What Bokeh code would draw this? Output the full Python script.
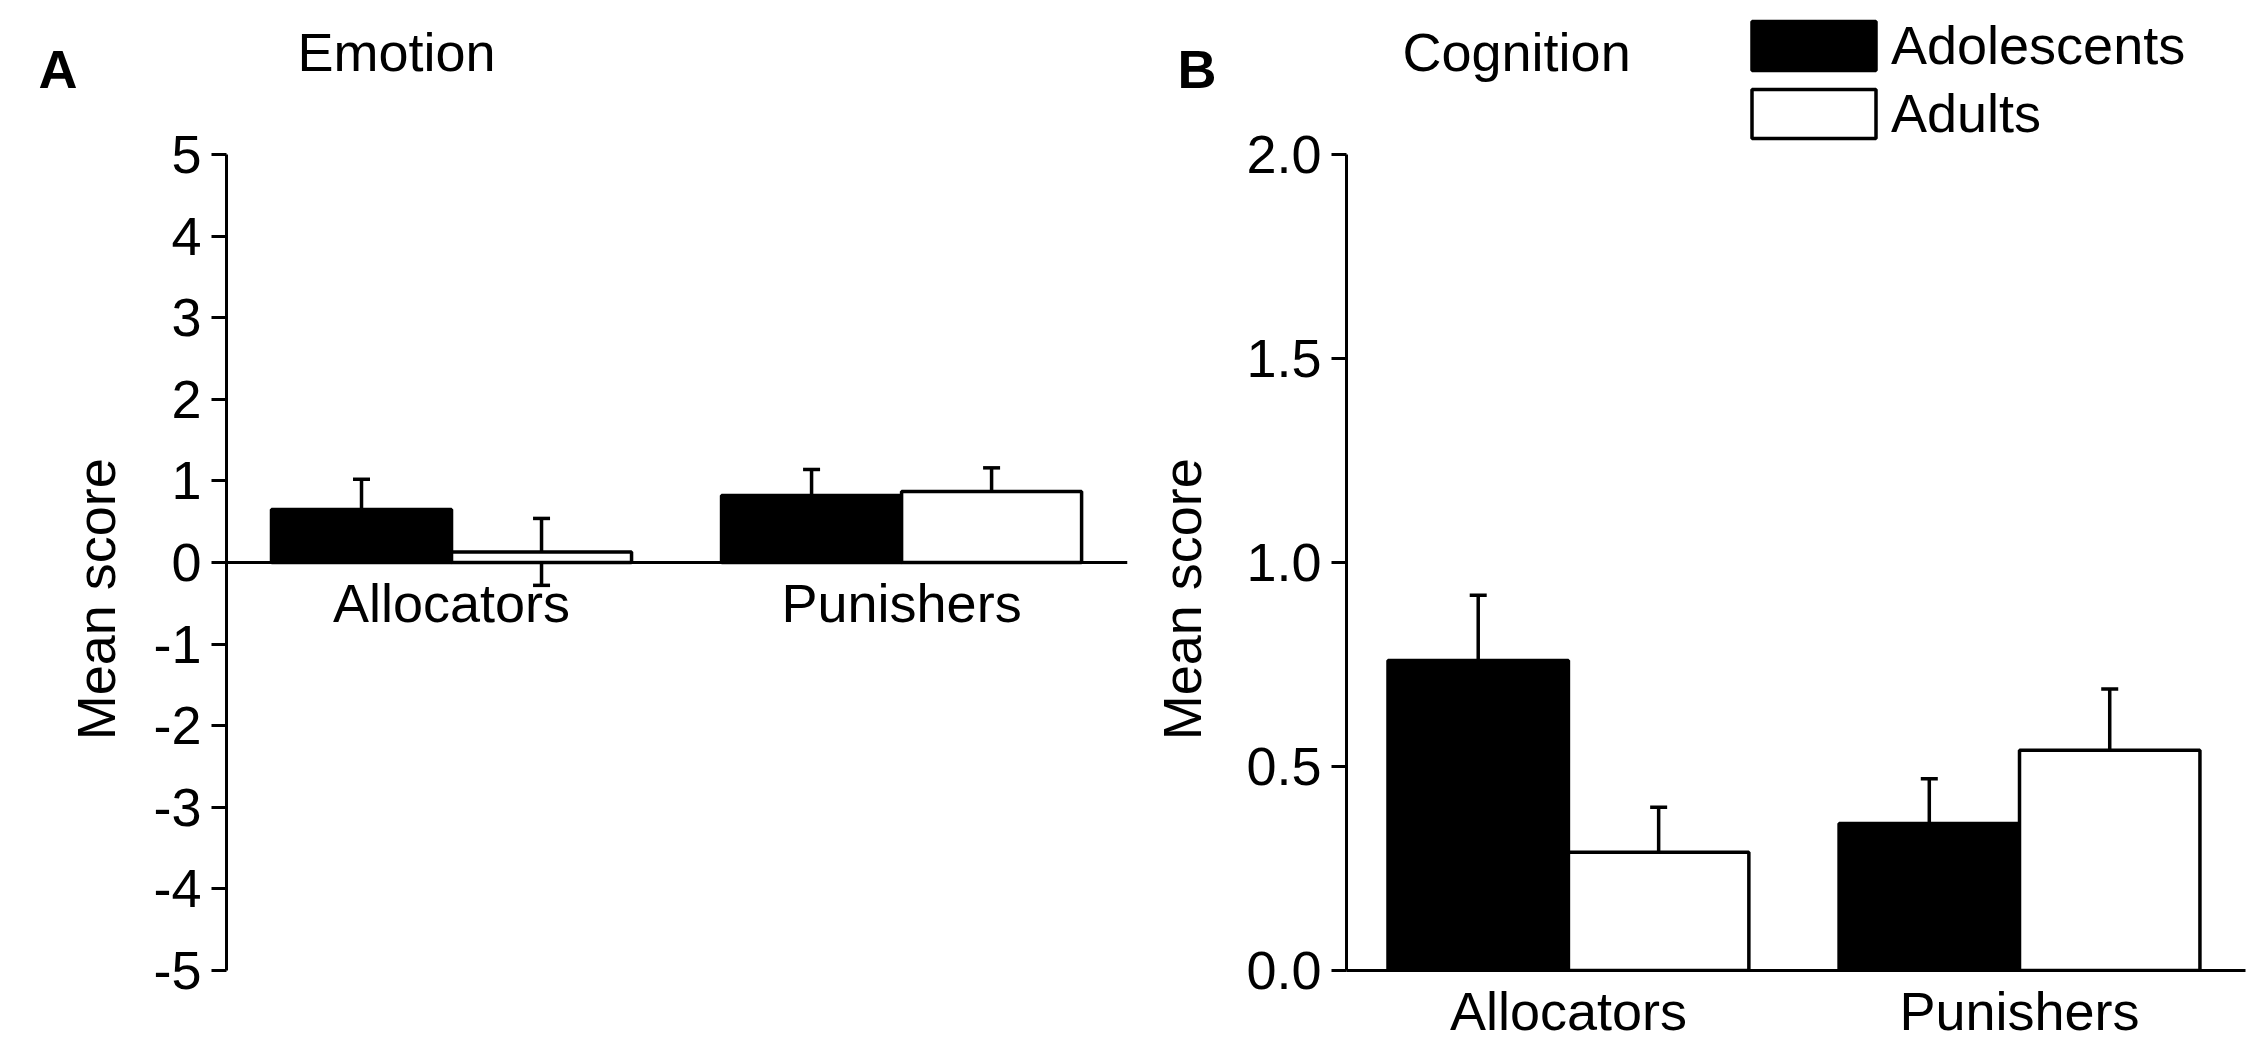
import math
from bokeh.plotting import figure
from bokeh.models import (ColumnDataSource, Range1d, FixedTicker, Whisker, TeeHead,
                          Legend, LegendItem)
from bokeh.layouts import row
from bokeh.embed import file_html
from bokeh.resources import INLINE
from bokeh.core.properties import value

# ---------------- data ----------------
categories = ["Allocators", "Punishers"]
groups = ["Adolescents", "Adults"]

emotion_adolescents = [0.65, 0.82]
emotion_adolescents_err = [0.37, 0.32]
emotion_adults = [0.13, 0.87]
emotion_adults_err = [0.41, 0.29]

cognition_adolescents = [0.76, 0.36]
cognition_adolescents_err = [0.16, 0.11]
cognition_adults = [0.29, 0.54]
cognition_adults_err = [0.11, 0.15]

emotion_ticks = [-5, -4, -3, -2, -1, 0, 1, 2, 3, 4, 5]
emotion_tick_labels = ["-5", "-4", "-3", "-2", "-1", "0", "1", "2", "3", "4", "5"]
cognition_ticks = [0.0, 0.5, 1.0, 1.5, 2.0]
cognition_tick_labels = ["0.0", "0.5", "1.0", "1.5", "2.0"]

FONT = "Liberation Sans"
FS = "54px"
H = 1045            # canvas height
FRAME_BOTTOM = 970  # page y of the lowest y tick / bottom axis
TOP_TICK = 154      # page y of the top y tick
MID = 19            # baseline -> middle of text box (px)
ROT_SHIFT = 55      # correction along rotated text


def strip(width, texts):
    """Narrow figure holding the texts left of a y axis (page-pixel coordinates)."""
    p = figure(width=width, height=H, x_range=Range1d(0, width), y_range=Range1d(0, H),
               output_backend="svg", toolbar_location=None,
               min_border=0, min_border_left=0, min_border_right=0,
               min_border_top=0, min_border_bottom=0)
    p.axis.visible = False
    p.grid.grid_line_color = None
    p.outline_line_color = None
    for (x, y, t, bold, ang) in texts:
        p.text(x=[x], y=[H - y], text=[t], text_font=value(FONT),
               text_font_size=value(FS), text_font_style="bold" if bold else "normal",
               text_color="black", text_baseline="middle", text_align="left",
               angle=ang)
    return p


def make_panel(width, border_left, border_right, xlo, xhi, ylo, yhi, yticks, ylabels,
               adol, adol_err, adul, adul_err, x_at_zero):
    p = figure(width=width, height=H, x_range=Range1d(xlo, xhi), y_range=Range1d(ylo, yhi),
               output_backend="svg", toolbar_location=None,
               min_border_left=border_left, min_border_right=border_right,
               min_border_top=0, min_border_bottom=H - FRAME_BOTTOM)
    p.outline_line_color = None
    p.grid.grid_line_color = None
    p.background_fill_color = "white"
    p.border_fill_color = "white"

    idx = list(range(1, len(categories) + 1))
    src_a = ColumnDataSource(dict(
        x=[i - 0.2 for i in idx], top=adol,
        upper=[v + e for v, e in zip(adol, adol_err)],
        lower=[v - e for v, e in zip(adol, adol_err)]))
    src_b = ColumnDataSource(dict(
        x=[i + 0.2 for i in idx], top=adul,
        upper=[v + e for v, e in zip(adul, adul_err)],
        lower=[v - e for v, e in zip(adul, adul_err)]))

    r_a = p.vbar(x="x", top="top", bottom=0, width=0.4, source=src_a,
                 fill_color="black", line_color="black", line_width=3.5)
    r_b = p.vbar(x="x", top="top", bottom=0, width=0.4, source=src_b,
                 fill_color="white", line_color="black", line_width=3.5)

    for s in (src_a, src_b):
        w = Whisker(source=s, base="x", upper="upper", lower="lower",
                    line_color="black", line_width=3.5,
                    upper_head=TeeHead(size=17, line_width=3.5, line_color="black"),
                    lower_head=TeeHead(size=17, line_width=3.5, line_color="black"))
        p.add_layout(w)

    xa = p.xaxis[0]
    xa.ticker = FixedTicker(ticks=idx)
    xa.major_label_overrides = {i: c for i, c in zip(idx, categories)}
    xa.major_tick_line_color = None
    xa.major_tick_out = 0
    xa.major_tick_in = 0
    xa.minor_tick_line_color = None
    xa.axis_line_width = 3
    xa.axis_line_color = "black"
    xa.major_label_standoff = 10
    xa.major_label_text_font = FONT
    xa.major_label_text_font_size = FS
    xa.major_label_text_color = "black"
    if x_at_zero:
        xa.fixed_location = 0

    ya = p.yaxis[0]
    ya.ticker = FixedTicker(ticks=yticks)
    ya.bounds = (yticks[0], yticks[-1])
    ya.major_label_overrides = {t: l for t, l in zip(yticks, ylabels)}
    ya.axis_line_width = 3
    ya.axis_line_color = "black"
    ya.major_tick_line_width = 3
    ya.major_tick_line_color = "black"
    ya.major_tick_out = 15
    ya.major_tick_in = 0
    ya.minor_tick_line_color = None
    ya.major_label_standoff = 10
    ya.major_label_text_font = FONT
    ya.major_label_text_font_size = FS
    ya.major_label_text_color = "black"
    return p, r_a, r_b


def add_text(p, x, y, t):
    p.text(x=[x], y=[y], text=[t], text_font=value(FONT), text_font_size=value(FS),
           text_color="black", text_baseline="middle", text_align="left")


# ---- Panel A (frame: page x 226..1127, y 0..970; tick 5 at y 154) ----
SA = 140
a_ppu_y = (FRAME_BOTTOM - TOP_TICK) / 10.0
a_top = 5 + TOP_TICK / a_ppu_y
stripA = strip(SA, [(38, 93 - MID, "A", True, 0.0),
                    (114 - MID, 742 + ROT_SHIFT, "Mean score", False, math.pi / 2)])
pA, _, _ = make_panel(1134 - SA, 226 - SA, 7, 0.5, 2.502, -5, a_top,
                      emotion_ticks, emotion_tick_labels,
                      emotion_adolescents, emotion_adolescents_err,
                      emotion_adults, emotion_adults_err, x_at_zero=True)
add_text(pA, 0.5 + (297 - 226) / 450.0, 5 + (TOP_TICK - (70 - MID)) / a_ppu_y, "Emotion")

# ---- Panel B (frame: page x 1346..2245) ----
SB = 90
b_ppu_y = (FRAME_BOTTOM - TOP_TICK) / 2.0
b_top = 2 + TOP_TICK / b_ppu_y
stripB = strip(SB, [(1177 - 1134, 93 - MID, "B", True, 0.0),
                    (1200 - 1134 - MID, 742 + ROT_SHIFT, "Mean score", False, math.pi / 2)])
pB, rb_a, rb_b = make_panel(1125 - SB, 1346 - 1134 - SB, 14, 0.508, 2.501, 0, b_top,
                            cognition_ticks, cognition_tick_labels,
                            cognition_adolescents, cognition_adolescents_err,
                            cognition_adults, cognition_adults_err, x_at_zero=False)
add_text(pB, 0.508 + (1402 - 1346) / 451.0, 2 + (TOP_TICK - (70 - MID)) / b_ppu_y, "Cognition")

legend = Legend(items=[LegendItem(label=groups[0], renderers=[rb_a]),
                       LegendItem(label=groups[1], renderers=[rb_b])],
                location=(390, 826), glyph_width=155, glyph_height=61,
                label_standoff=0, spacing=6, padding=0, margin=0,
                border_line_color=None, background_fill_alpha=0,
                label_text_font=FONT, label_text_font_size=FS,
                label_text_color="black")
pB.add_layout(legend, "center")

layout = row(stripA, pA, stripB, pB)
open("out.html", "w").write(file_html(layout, INLINE))
